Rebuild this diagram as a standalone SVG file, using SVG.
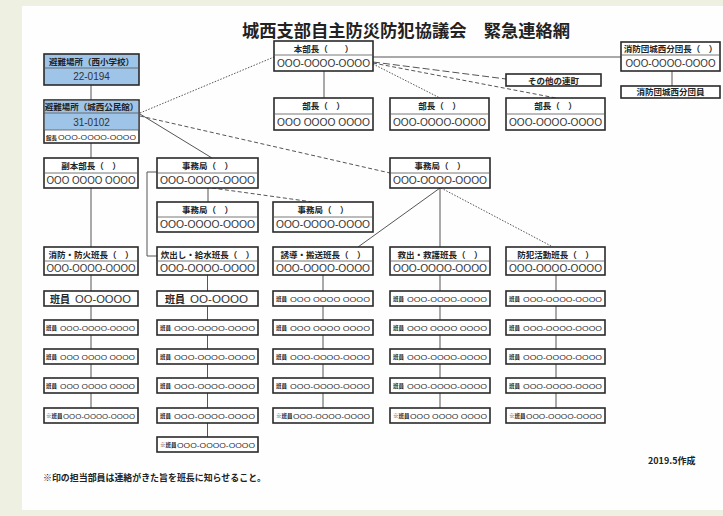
<svg xmlns="http://www.w3.org/2000/svg" width="723" height="516" viewBox="0 0 723 516">
<style>
.bg{fill:#eef1e1}
.page{fill:#fefefe}
.box{fill:#fff;stroke:#2a2a2a;stroke-width:1.6}
.blue{fill:#9ec4e8}
.dv{stroke:#555;stroke-width:0.8}
.t{font-family:"Noto Sans CJK JP","Noto Sans",sans-serif;fill:#222}
.n{font-family:"Liberation Sans",Arial,sans-serif;fill:#333}
.h{font-size:8.5px;font-weight:bold;text-anchor:middle}
.ph{font-size:10px;text-anchor:middle}
.lb{font-size:5.5px;font-weight:bold}
.mp{font-size:8px}
.big{font-size:11px;font-weight:bold;text-anchor:middle}
.c{fill:none;stroke:#555;stroke-width:1}
.dot{stroke-dasharray:1.5 1.5}
.dash{stroke-dasharray:4 2.5}
.ldash{stroke-dasharray:7 3}
</style>
<rect class="bg" x="0" y="0" width="723" height="516"/>
<rect class="page" x="22" y="6" width="701" height="504"/>
<text class="t" x="242" y="37" font-size="17" font-weight="bold" textLength="328" lengthAdjust="spacingAndGlyphs">城西支部自主防災防犯協議会　緊急連絡網</text>

<g id="connectors">
<path class="c" d="M91,85 V100 M91,143 V158 M91,188 V247"/>
<path class="c dot" d="M140,113 L274,57"/>
<path class="c" d="M140,114 L212,158"/>
<path class="c dash" d="M140,116 L390,173"/>
<path class="c" d="M373,57 H621"/>
<path class="c" d="M324,71 V98"/>
<path class="c ldash" d="M373,62 L506,79"/>
<path class="c dot" d="M373,64 L440,98"/>
<path class="c dash" d="M373,63 L556,98"/>
<path class="c" d="M672,71 V86"/>
<path class="c" d="M208,188 V202"/>
<path class="c dash" d="M212,188 L313,202"/>
<path class="c" d="M157,172 H147 V256 H157"/>
<path class="c" d="M440,188 L358,247 M440,188 V247"/>
<path class="c dot" d="M441,188 L553,247"/>
<path class="c" d="M91,275 V408 M207.5,275 V437 M323,275 V408 M440,275 V408 M556,275 V408"/>
</g>

<g id="hinan1">
<rect class="box blue" x="44" y="54" width="95" height="31"/>
<line class="dv" x1="44" y1="68" x2="139" y2="68"/>
<text class="t h" x="91.5" y="64.5">避難場所（西小学校）</text>
<text class="n ph" x="91.5" y="80" font-size="9">22-0194</text>
</g>
<g id="hinan2">
<rect class="box" x="44" y="100" width="95" height="43"/>
<rect class="blue" x="44.8" y="100.8" width="93.4" height="29.2"/>
<line class="dv" x1="44" y1="113" x2="139" y2="113"/>
<line class="dv" x1="44" y1="130" x2="139" y2="130"/>
<text class="t h" x="91.5" y="110">避難場所（城西公民館）</text>
<text class="n ph" x="91.5" y="125.5">31-0102</text>
<text class="t lb" x="46" y="140">館長</text>
<text class="n mp" x="58" y="140" textLength="78" lengthAdjust="spacingAndGlyphs">OOO-OOOO-OOOO</text>
</g>

<g id="honbucho">
<rect class="box" x="274" y="41" width="99" height="30"/>
<line class="dv" x1="274" y1="55" x2="373" y2="55"/>
<text class="t h" x="323.5" y="51.5">本部長（　　）</text>
<text class="n ph" x="323.5" y="67" textLength="93" lengthAdjust="spacingAndGlyphs">OOO-OOOO-OOOO</text>
</g>
<g id="bucho1">
<rect class="box" x="274" y="98" width="99" height="32"/>
<line class="dv" x1="274" y1="114" x2="373" y2="114"/>
<text class="t h" x="323.5" y="109">部長（　）</text>
<text class="n ph" x="323.5" y="126" textLength="93" lengthAdjust="spacingAndGlyphs">OOO OOOO OOOO</text>
</g>
<g id="bucho2">
<rect class="box" x="390" y="98" width="99" height="32"/>
<line class="dv" x1="390" y1="114" x2="489" y2="114"/>
<text class="t h" x="439.5" y="109">部長（　）</text>
<text class="n ph" x="439.5" y="126" textLength="93" lengthAdjust="spacingAndGlyphs">OOO-OOOO-OOOO</text>
</g>
<g id="bucho3">
<rect class="box" x="506" y="98" width="99" height="32"/>
<line class="dv" x1="506" y1="114" x2="605" y2="114"/>
<text class="t h" x="555.5" y="109">部長（　）</text>
<text class="n ph" x="555.5" y="126" textLength="93" lengthAdjust="spacingAndGlyphs">OOO-OOOO-OOOO</text>
</g>
<g id="sonota">
<rect class="box" x="506" y="74" width="95" height="12"/>
<text class="t h" x="553.5" y="83.5">その他の連町</text>
</g>
<g id="shobodancho">
<rect class="box" x="621" y="42" width="99" height="29"/>
<line class="dv" x1="621" y1="55" x2="720" y2="55"/>
<text class="t h" x="670.5" y="52" font-size="7.5">消防団城西分団長（　）</text>
<text class="n ph" x="670.5" y="67" textLength="90" lengthAdjust="spacingAndGlyphs">OOO-OOOO-OOOO</text>
</g>
<g id="shobodanin">
<rect class="box" x="621" y="86" width="99" height="12"/>
<text class="t h" x="670.5" y="95" font-size="7.5">消防団城西分団員</text>
</g>

<g id="fukuhonbucho">
<rect class="box" x="44" y="158" width="94" height="30"/>
<line class="dv" x1="44" y1="173" x2="138" y2="173"/>
<text class="t h" x="91" y="168.5">副本部長（　）</text>
<text class="n ph" x="91" y="184" textLength="89" lengthAdjust="spacingAndGlyphs">OOO OOOO OOOO</text>
</g>
<g id="jimukyoku1">
<rect class="box" x="157" y="158" width="101" height="30"/>
<line class="dv" x1="157" y1="173" x2="258" y2="173"/>
<text class="t h" x="207.5" y="168.5">事務局（　）</text>
<text class="n ph" x="207.5" y="184" textLength="95" lengthAdjust="spacingAndGlyphs">OOO-OOOO-OOOO</text>
</g>
<g id="jimukyoku2">
<rect class="box" x="157" y="202" width="101" height="30"/>
<line class="dv" x1="157" y1="217" x2="258" y2="217"/>
<text class="t h" x="207.5" y="212.5">事務局（　）</text>
<text class="n ph" x="207.5" y="228" textLength="95" lengthAdjust="spacingAndGlyphs">OOO-OOOO-OOOO</text>
</g>
<g id="jimukyoku3">
<rect class="box" x="273" y="202" width="100" height="30"/>
<line class="dv" x1="273" y1="217" x2="373" y2="217"/>
<text class="t h" x="323" y="212.5">事務局（　）</text>
<text class="n ph" x="323" y="228" textLength="94" lengthAdjust="spacingAndGlyphs">OOO-OOOO-OOOO</text>
</g>
<g id="jimukyoku4">
<rect class="box" x="390" y="158" width="100" height="30"/>
<line class="dv" x1="390" y1="173" x2="490" y2="173"/>
<text class="t h" x="440" y="168.5">事務局（　）</text>
<text class="n ph" x="440" y="184" textLength="94" lengthAdjust="spacingAndGlyphs">OOO-OOOO-OOOO</text>
</g>

<g id="hancho1">
<rect class="box" x="44" y="247" width="94" height="28"/>
<line class="dv" x1="44" y1="261" x2="138" y2="261"/>
<text class="t h" x="91" y="257.5">消防・防火班長（　）</text>
<text class="n ph" x="91" y="271.5" textLength="89" lengthAdjust="spacingAndGlyphs">OOO-OOOO-OOOO</text>
</g>
<g id="hancho2">
<rect class="box" x="157" y="247" width="101" height="28"/>
<line class="dv" x1="157" y1="261" x2="258" y2="261"/>
<text class="t h" x="207.5" y="257.5">炊出し・給水班長（　）</text>
<text class="n ph" x="207.5" y="271.5" textLength="95" lengthAdjust="spacingAndGlyphs">OOO-OOOO-OOOO</text>
</g>
<g id="hancho3">
<rect class="box" x="273" y="247" width="100" height="28"/>
<line class="dv" x1="273" y1="261" x2="373" y2="261"/>
<text class="t h" x="323" y="257.5">誘導・搬送班長（　）</text>
<text class="n ph" x="323" y="271.5" textLength="94" lengthAdjust="spacingAndGlyphs">OOO-OOOO-OOOO</text>
</g>
<g id="hancho4">
<rect class="box" x="390" y="247" width="100" height="28"/>
<line class="dv" x1="390" y1="261" x2="490" y2="261"/>
<text class="t h" x="440" y="257.5">救出・救護班長（　）</text>
<text class="n ph" x="440" y="271.5" textLength="94" lengthAdjust="spacingAndGlyphs">OOO-OOOO-OOOO</text>
</g>
<g id="hancho5">
<rect class="box" x="506" y="247" width="99" height="28"/>
<line class="dv" x1="506" y1="261" x2="605" y2="261"/>
<text class="t h" x="555.5" y="257.5">防犯活動班長（　）</text>
<text class="n ph" x="555.5" y="271.5" textLength="93" lengthAdjust="spacingAndGlyphs">OOO-OOOO-OOOO</text>
</g>

<g id="c1r0"><rect class="box" x="44" y="291" width="94" height="15"/><text class="t" x="50" y="302.5" font-size="10" font-weight="bold">班員</text><text class="n" x="75" y="303" font-size="11.5" textLength="56" lengthAdjust="spacingAndGlyphs">OO-OOOO</text></g>
<g id="c1r1"><rect class="box" x="44" y="320" width="94" height="15"/><text class="t lb" x="46" y="330">班員</text><text class="n mp" x="60" y="331" textLength="75" lengthAdjust="spacingAndGlyphs">OOO-OOOO-OOOO</text></g>
<g id="c1r2"><rect class="box" x="44" y="349" width="94" height="15"/><text class="t lb" x="46" y="359">班員</text><text class="n mp" x="60" y="360" textLength="75" lengthAdjust="spacingAndGlyphs">OOO OOOO OOOO</text></g>
<g id="c1r3"><rect class="box" x="44" y="378" width="94" height="15"/><text class="t lb" x="46" y="388">班員</text><text class="n mp" x="60" y="389" textLength="75" lengthAdjust="spacingAndGlyphs">OOO OOOO OOOO</text></g>
<g id="c1r4"><rect class="box" x="44" y="408" width="94" height="15"/><text class="t lb" x="46" y="418">※班員</text><text class="n mp" x="63" y="419" textLength="72" lengthAdjust="spacingAndGlyphs">OOO-OOOO-OOOO</text></g>

<g id="c2r0"><rect class="box" x="157" y="291" width="101" height="15"/><text class="t" x="165" y="302.5" font-size="10" font-weight="bold">班員</text><text class="n" x="190" y="303" font-size="11.5" textLength="58" lengthAdjust="spacingAndGlyphs">OO-OOOO</text></g>
<g id="c2r1"><rect class="box" x="157" y="320" width="101" height="15"/><text class="t lb" x="160" y="330">班員</text><text class="n mp" x="174" y="331" textLength="81" lengthAdjust="spacingAndGlyphs">OOO-OOOO-OOOO</text></g>
<g id="c2r2"><rect class="box" x="157" y="349" width="101" height="15"/><text class="t lb" x="160" y="359">班員</text><text class="n mp" x="174" y="360" textLength="81" lengthAdjust="spacingAndGlyphs">OOO-OOOO-OOOO</text></g>
<g id="c2r3"><rect class="box" x="157" y="378" width="101" height="15"/><text class="t lb" x="160" y="388">班員</text><text class="n mp" x="174" y="389" textLength="81" lengthAdjust="spacingAndGlyphs">OOO-OOOO-OOOO</text></g>
<g id="c2r4"><rect class="box" x="157" y="408" width="101" height="15"/><text class="t lb" x="160" y="418">班員</text><text class="n mp" x="174" y="419" textLength="81" lengthAdjust="spacingAndGlyphs">OOO-OOOO-OOOO</text></g>
<g id="c2r5"><rect class="box" x="157" y="437" width="101" height="15"/><text class="t lb" x="160" y="447">※班員</text><text class="n mp" x="177" y="448" textLength="78" lengthAdjust="spacingAndGlyphs">OOO-OOOO-OOOO</text></g>

<g id="c3r0"><rect class="box" x="273" y="291" width="100" height="15"/><text class="t lb" x="276" y="301">班員</text><text class="n mp" x="290" y="302" textLength="80" lengthAdjust="spacingAndGlyphs">OOO OOOO OOOO</text></g>
<g id="c3r1"><rect class="box" x="273" y="320" width="100" height="15"/><text class="t lb" x="276" y="330">班員</text><text class="n mp" x="290" y="331" textLength="80" lengthAdjust="spacingAndGlyphs">OOO OOOO OOOO</text></g>
<g id="c3r2"><rect class="box" x="273" y="349" width="100" height="15"/><text class="t lb" x="276" y="359">班員</text><text class="n mp" x="290" y="360" textLength="80" lengthAdjust="spacingAndGlyphs">OOO-OOOO-OOOO</text></g>
<g id="c3r3"><rect class="box" x="273" y="378" width="100" height="15"/><text class="t lb" x="276" y="388">班員</text><text class="n mp" x="290" y="389" textLength="80" lengthAdjust="spacingAndGlyphs">OOO-OOOO-OOOO</text></g>
<g id="c3r4"><rect class="box" x="273" y="408" width="100" height="15"/><text class="t lb" x="276" y="418">※班員</text><text class="n mp" x="293" y="419" textLength="77" lengthAdjust="spacingAndGlyphs">OOO-OOOO-OOOO</text></g>

<g id="c4r0"><rect class="box" x="390" y="291" width="100" height="15"/><text class="t lb" x="393" y="301">班員</text><text class="n mp" x="407" y="302" textLength="80" lengthAdjust="spacingAndGlyphs">OOO-OOOO-OOOO</text></g>
<g id="c4r1"><rect class="box" x="390" y="320" width="100" height="15"/><text class="t lb" x="393" y="330">班員</text><text class="n mp" x="407" y="331" textLength="80" lengthAdjust="spacingAndGlyphs">OOO OOOO OOOO</text></g>
<g id="c4r2"><rect class="box" x="390" y="349" width="100" height="15"/><text class="t lb" x="393" y="359">班員</text><text class="n mp" x="407" y="360" textLength="80" lengthAdjust="spacingAndGlyphs">OOO-OOOO-OOOO</text></g>
<g id="c4r3"><rect class="box" x="390" y="378" width="100" height="15"/><text class="t lb" x="393" y="388">班員</text><text class="n mp" x="407" y="389" textLength="80" lengthAdjust="spacingAndGlyphs">OOO-OOOO-OOOO</text></g>
<g id="c4r4"><rect class="box" x="390" y="408" width="100" height="15"/><text class="t lb" x="393" y="418">※班員</text><text class="n mp" x="410" y="419" textLength="77" lengthAdjust="spacingAndGlyphs">OOO OOOO OOOO</text></g>

<g id="c5r0"><rect class="box" x="506" y="291" width="99" height="15"/><text class="t lb" x="509" y="301">班員</text><text class="n mp" x="523" y="302" textLength="79" lengthAdjust="spacingAndGlyphs">OOO-OOOO-OOOO</text></g>
<g id="c5r1"><rect class="box" x="506" y="320" width="99" height="15"/><text class="t lb" x="509" y="330">班員</text><text class="n mp" x="523" y="331" textLength="79" lengthAdjust="spacingAndGlyphs">OOO-OOOO-OOOO</text></g>
<g id="c5r2"><rect class="box" x="506" y="349" width="99" height="15"/><text class="t lb" x="509" y="359">班員</text><text class="n mp" x="523" y="360" textLength="79" lengthAdjust="spacingAndGlyphs">OOO-OOOO-OOOO</text></g>
<g id="c5r3"><rect class="box" x="506" y="378" width="99" height="15"/><text class="t lb" x="509" y="388">班員</text><text class="n mp" x="523" y="389" textLength="79" lengthAdjust="spacingAndGlyphs">OOO-OOOO-OOOO</text></g>
<g id="c5r4"><rect class="box" x="506" y="408" width="99" height="15"/><text class="t lb" x="509" y="418">※班員</text><text class="n mp" x="526" y="419" textLength="76" lengthAdjust="spacingAndGlyphs">OOO-OOOO-OOOO</text></g>

<text class="t" x="43" y="481" font-size="9" font-weight="bold" textLength="223" lengthAdjust="spacingAndGlyphs">※印の担当部員は連絡がきた旨を班長に知らせること。</text>
<text class="t" x="648" y="464" font-size="9" font-weight="bold">2019.5作成</text>
</svg>
